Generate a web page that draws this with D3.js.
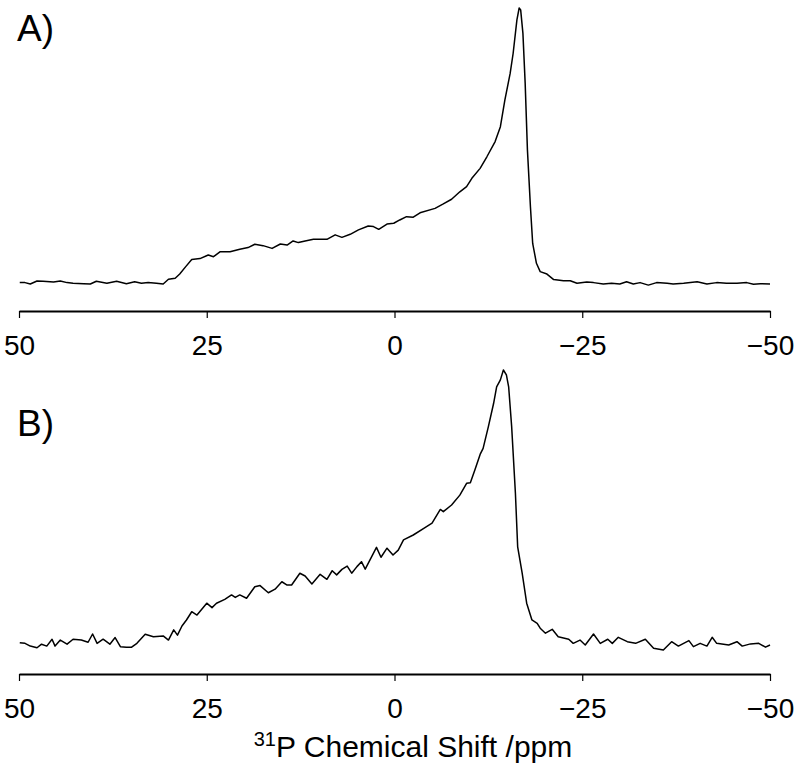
<!DOCTYPE html>
<html>
<head>
<meta charset="utf-8">
<script src="https://cdn.jsdelivr.net/npm/d3@7"></script>
<style>
  body { margin: 0; background: #fff; }
  svg { display: block; font-family: "Liberation Sans", Arial, Helvetica, sans-serif; }
  .spec { fill: none; stroke: #000; stroke-width: 1.5; stroke-linejoin: round; }
  .axis path { stroke: #000; stroke-width: 2; }
  .axis line { stroke: #000; stroke-width: 1.2; }
  .axis text { font-size: 28px; fill: #000; }
</style>
</head>
<body>
<svg id="chart" width="795" height="768"></svg>
<script>
// chemical shift axis
var ticks = [50, 25, 0, -25, -50];
var panelLabels = ['A)', 'B)'];

// spectrum A (ppm, relative intensity)
var ppmA = [49.9, 49.2, 48.5, 47.6, 46.8, 45.4, 44.5, 43.6, 42.8, 41.4, 40.5, 39.7, 38.3, 37.0, 35.7, 34.6,
    33.7, 32.8, 31.7, 30.8, 30.1, 29.2, 28.6, 27.8, 27.0, 25.9, 24.8, 24.1, 23.2, 21.9, 20.6, 19.5, 18.6,
    17.5, 16.3, 15.2, 14.3, 13.5, 12.8, 11.9, 10.8, 9.0, 7.9, 7.0, 5.9, 4.8, 3.5, 2.8, 2.1, 1.0, 0.1,
    -0.7, -1.6, -2.5, -3.4, -5.4, -6.5, -7.6, -8.7, -9.6, -10.3, -11.4, -12.3, -13.4, -14.1, -14.7, -15.4,
    -15.8, -16.3, -16.6, -16.8, -17.1, -17.4, -17.7, -18.1, -18.4, -18.9, -19.4, -20.3, -21.2, -22.5, -23.4,
    -24.3, -25.6, -26.5, -27.8, -28.9, -30.0, -30.9, -31.8, -32.7, -33.8, -34.9, -36.3, -37.1, -38.5, -40.3,
    -41.6, -42.9, -44.2, -45.6, -46.9, -47.8, -48.7, -50];
var intA = [0.5, 0.5, 0, 1.1, 1.0, 0.7, 1.1, 0.5, 0.3, 0.1, 0, 1.0, 0.3, 1.0, 0.1, 0.8,
    0.3, 0.5, 0.3, 0, 1.7, 2.1, 3.6, 6.3, 8.9, 9.2, 10.5, 9.9, 11.7, 11.7, 12.6, 13.2, 14.4,
    13.9, 12.9, 14.5, 14.1, 15.6, 15.0, 15.6, 16.2, 16.2, 17.8, 16.9, 18.0, 19.6, 21.0, 20.8, 19.8, 21.7, 22.0,
    23.2, 24.4, 24.2, 25.8, 27.4, 29.0, 30.7, 33.4, 35.3, 38.3, 41.9, 46.1, 51.6, 57.0, 66.7, 76.3,
    83.6, 95.7, 100, 99.3, 90.8, 72.7, 48.6, 28.0, 14.7, 7.5, 4.5, 3.6, 1.6, 1.2, 1.2,
    0.3, 0.7, 0.5, 0, 0.3, 0, 0.8, 0, 0.5, -0.4, 0.5, 0.3, 0, 0.3, 0.8,
    0, 0.5, 0.3, 0.3, 0.5, -0.1, 0.1, 0];

// spectrum B (ppm, relative intensity)
var ppmB = [49.9, 49.2, 48.5, 47.6, 47.0, 46.3, 45.6, 45.2, 44.5, 43.6, 42.8, 41.7, 40.8, 40.2, 39.6, 38.8,
    37.9, 37.2, 36.5, 35.7, 35.0, 34.3, 33.2, 32.1, 30.8, 30.1, 29.4, 28.9, 28.3, 27.7, 27.0, 26.3, 25.0,
    24.3, 23.7, 22.6, 21.7, 21.2, 20.6, 19.7, 18.6, 17.9, 16.8, 15.9, 15.0, 14.3, 13.7, 12.6, 11.9, 11.0,
    9.9, 9.0, 8.3, 7.7, 7.0, 6.3, 5.7, 5.0, 4.4, 3.9, 2.4, 1.8, 1.0, 0.2, -0.5, -1.2, -2.5, -3.9, -5.0,
    -6.1, -6.5, -7.6, -8.7, -9.6, -10.1, -10.7, -11.4, -11.8, -12.5, -13.2, -13.6, -14.1, -14.5, -14.9,
    -15.2, -15.6, -16.1, -16.4, -17.0, -17.6, -18.3, -19.0, -19.4, -20.1, -21.0, -21.8, -23.2, -23.8,
    -24.7, -25.4, -26.5, -27.4, -28.4, -29.0, -29.8, -31.0, -32.1, -33.4, -34.5, -35.8, -36.9, -37.8,
    -39.2, -39.8, -40.7, -41.6, -42.3, -42.9, -44.5, -45.6, -46.3, -47.4, -48.5, -49.4, -50];
var intB = [0.8, 0.6, -0.4, -1.0, 0.3, -0.4, 2.1, -0.4, 1.8, 0.3, 2.1, 1.8, 1.0, 4.0, 0.6, 2.1,
    0.3, 2.7, -0.6, -0.8, -0.8, 0.6, 3.9, 3.0, 3.3, 1.8, 5.5, 3.6, 6.9, 9.1, 12.1, 10.9, 15.2,
    13.6, 15.2, 16.6, 18.2, 17.3, 18.2, 17.0, 21.2, 21.6, 19.0, 20.3, 23.0, 21.8, 21.8, 26.1, 25.1, 22.2,
    25.7, 23.9, 27.0, 25.5, 27.5, 28.7, 26.1, 28.5, 30.3, 27.6, 35.5, 31.9, 35.2, 32.7, 34.5, 38.2, 40.0, 42.4, 44.3,
    49.3, 48.5, 50.9, 54.5, 58.8, 59.0, 63.6, 69.3, 71.5, 79.4, 87.9, 93.9, 96.4, 100, 98.2,
    93.9, 79.4, 55.2, 35.7, 26.1, 15.2, 9.1, 7.9, 6.1, 4.3, 5.7, 3.0, 2.1, 0.6,
    1.8, 0, 4.0, 0.6, 2.1, 0.6, 2.8, 1.2, 0.6, 2.1, -1.2, -1.8, 1.2, -0.4,
    1.6, -0.6, 0.6, -0.4, 2.8, 0.6, 0, 1.2, -0.4, 0.4, 0.6, -0.8, 0];

var svg = d3.select('#chart');

var x = d3.scaleLinear().domain([50, -50]).range([19, 770]);

/**
 * Draws one spectrum with its own shift axis
 */
function drawPanel(ppm, inten, top, base, axisY, label, labelY) {
    var y = d3.scaleLinear().domain([0, 100]).range([base, top]);
    var pts = ppm.map(function(d, i) { return [d, inten[i]]; });

    var line = d3.line()
        .x(function(d) { return x(d[0]); })
        .y(function(d) { return y(d[1]); });

    svg.append('path').datum(pts).attr('class', 'spec').attr('d', line);

    var axis = d3.axisBottom(x).tickValues(ticks).tickSize(7).tickSizeOuter(0).tickPadding(17);
    svg.append('g').attr('class', 'axis')
        .attr('transform', 'translate(0,' + axisY + ')')
        .call(axis)
        .selectAll('text').attr('font-family', null);

    svg.append('text').attr('x', 17).attr('y', labelY)
        .style('font-size', '37px').text(label);
}

drawPanel(ppmA, intA, 8, 284, 311, panelLabels[0], 41);
drawPanel(ppmB, intB, 370, 645, 674, panelLabels[1], 436);

// axis title with superscript mass number
var title = svg.append('text').attr('x', 413).attr('y', 757)
    .attr('text-anchor', 'middle').style('font-size', '30px');
title.append('tspan').attr('dy', -11).style('font-size', '20px').text('31');
title.append('tspan').attr('dy', 11).text('P Chemical Shift /ppm');
</script>
</body>
</html>
